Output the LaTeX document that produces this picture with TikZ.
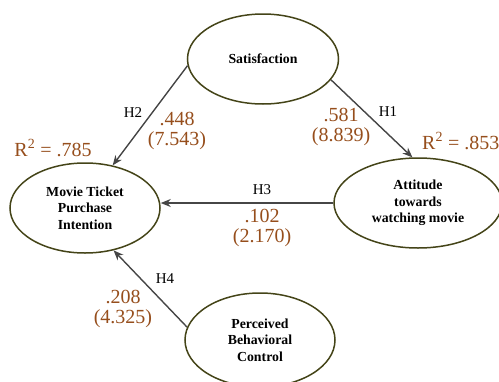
\documentclass[tikz,border=0pt]{standalone}
\usepackage{fontspec}
\setmainfont{Liberation Serif}
\usetikzlibrary{shapes.geometric,arrows.meta}
\definecolor{olive}{RGB}{68,68,24}
\definecolor{brn}{RGB}{150,78,28}
\definecolor{arr}{RGB}{70,70,70}
\begin{document}
\begin{tikzpicture}[x=1pt,y=-1pt,
  construct/.style={ellipse,draw=olive,line width=1.5pt,inner sep=0pt,
    align=center,font=\fontsize{13.8}{16.5}\selectfont\bfseries},
  path/.style={draw=arr,line width=1.4pt,-{Stealth[length=10pt,width=8pt]}},
  hlab/.style={font=\fontsize{15}{17}\selectfont,inner sep=0pt},
  coef/.style={text=brn,font=\fontsize{20}{20.5}\selectfont,align=center,inner sep=0pt}]
\useasboundingbox (0,0) rectangle (499,381);
\node[construct,minimum width=151pt,minimum height=90pt] (sat) at (263,59) {Satisfaction};
\node[construct,minimum width=150pt,minimum height=90pt] (mov) at (85,208) {Movie Ticket\\Purchase\\Intention};
\node[construct,minimum width=168pt,minimum height=90pt] (att) at (418,203) {Attitude\\towards\\watching movie};
\node[construct,minimum width=150pt,minimum height=94pt] (pbc) at (260,340) {Perceived\\Behavioral\\Control};
\draw[path] (sat.185) -- (mov.57);
\draw[path] (sat.343) -- (att.97);
\draw[path] (att.west) -- (att.west -| mov.east);
\draw[path] (pbc.170) -- (mov.304);
\node[hlab] (h2) at (133,113) {H2};
\node[hlab] (h1) at (388,112) {H1};
\node[hlab] (h3) at (262,190) {H3};
\node[hlab] (h4) at (165,279) {H4};
\node[coef] (c2) at (177,131) {.448\\(7.543)};
\node[coef] (c1) at (341,127) {.581\\(8.839)};
\node[coef] (c3) at (262,228) {.102\\(2.170)};
\node[coef] (c4) at (123,309) {.208\\(4.325)};
\node[coef] (r1) at (53,148) {R\textsuperscript{2} = .785};
\node[coef,anchor=west] (r2) at (422,141) {R\textsuperscript{2} = .853};
\end{tikzpicture}
\end{document}
